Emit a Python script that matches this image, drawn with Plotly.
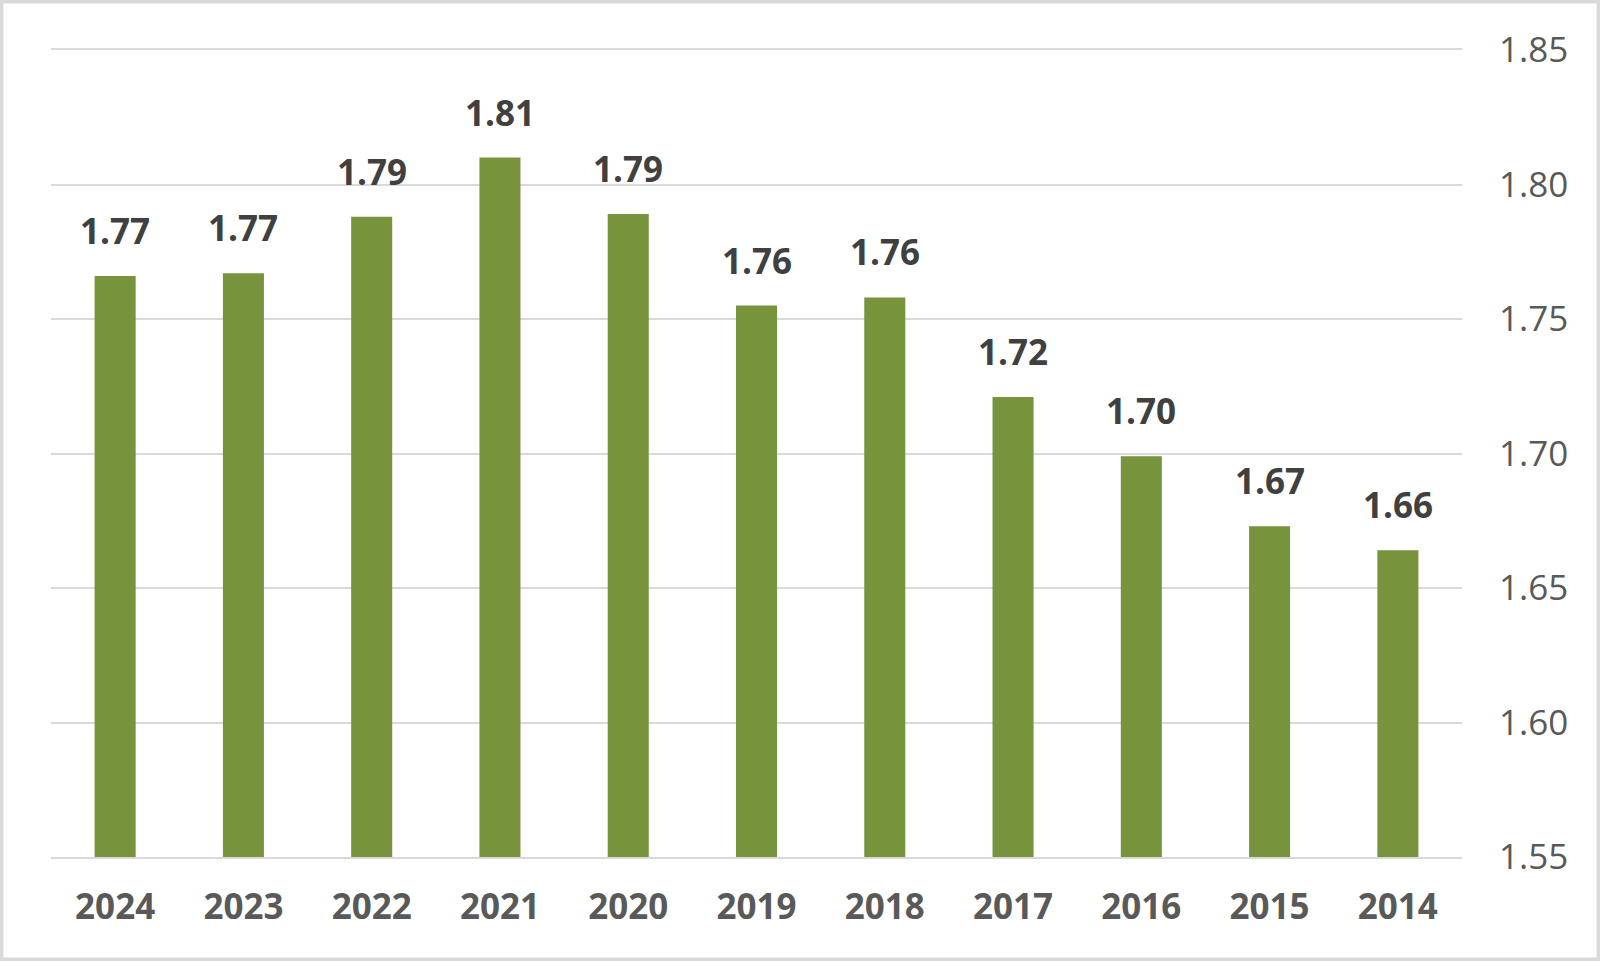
import plotly.graph_objects as go

years = ["2024", "2023", "2022", "2021", "2020", "2019", "2018", "2017", "2016", "2015", "2014"]
values = [1.766, 1.767, 1.788, 1.810, 1.789, 1.755, 1.758, 1.721, 1.699, 1.673, 1.664]
labels = ["1.77", "1.77", "1.79", "1.81", "1.79", "1.76", "1.76", "1.72", "1.70", "1.67", "1.66"]
y_ticks = [1.55, 1.60, 1.65, 1.70, 1.75, 1.80, 1.85]

W, H = 1600, 961
ML, MR, MT, MB = 51, 138, 50, 104
PW = W - ML - MR
PH = H - MT - MB

fig = go.Figure()
fig.add_trace(go.Bar(
    x=years, y=values,
    marker=dict(color="#77933C", line=dict(width=0)),
    width=0.32,
    hoverinfo="skip",
))

annotations = []
for i, (v, lab) in enumerate(zip(values, labels)):
    annotations.append(dict(
        x=i, y=v, xref="x", yref="y", text="<b>" + lab + "</b>",
        showarrow=False, yanchor="bottom", yshift=20,
        font=dict(family="Open Sans", size=35, color="#404040"),
    ))

def px_to_paper_x(px):
    return (px - ML) / PW

def px_to_paper_y(py):
    return (H - MB - py) / PH

fig.update_layout(
    width=W, height=H,
    margin=dict(l=ML, r=MR, t=MT, b=MB),
    paper_bgcolor="white", plot_bgcolor="white",
    showlegend=False,
    annotations=annotations,
    shapes=[dict(
        type="rect", xref="paper", yref="paper",
        x0=px_to_paper_x(1.75), x1=px_to_paper_x(W - 1.75),
        y0=px_to_paper_y(H - 1.75), y1=px_to_paper_y(1.75),
        line=dict(color="#D9D9D9", width=3.5), fillcolor="rgba(0,0,0,0)",
        layer="above",
    )],
    xaxis=dict(
        type="category", range=[-0.5, 10.5],
        showgrid=False, showline=True, mirror=True,
        linecolor="#D9D9D9", linewidth=2,
        ticks="", tickfont=dict(family="Open Sans", size=35, color="#595959"),
        tickprefix="<b>", ticksuffix="</b>",
        ticklabelstandoff=18,
    ),
    yaxis=dict(
        side="right", range=[1.55, 1.85], tickvals=y_ticks,
        ticktext=[f"{t:.2f}" for t in y_ticks],
        showgrid=True, gridcolor="#D9D9D9", gridwidth=2,
        zeroline=False, showline=False, ticks="",
        tickfont=dict(family="Open Sans", size=35, color="#595959"),
        ticklabelstandoff=36,
    ),
)

fig.write_html("out.html", config={"displayModeBar": False},
               post_script="document.body.style.margin='0';document.body.style.overflow='hidden';")
